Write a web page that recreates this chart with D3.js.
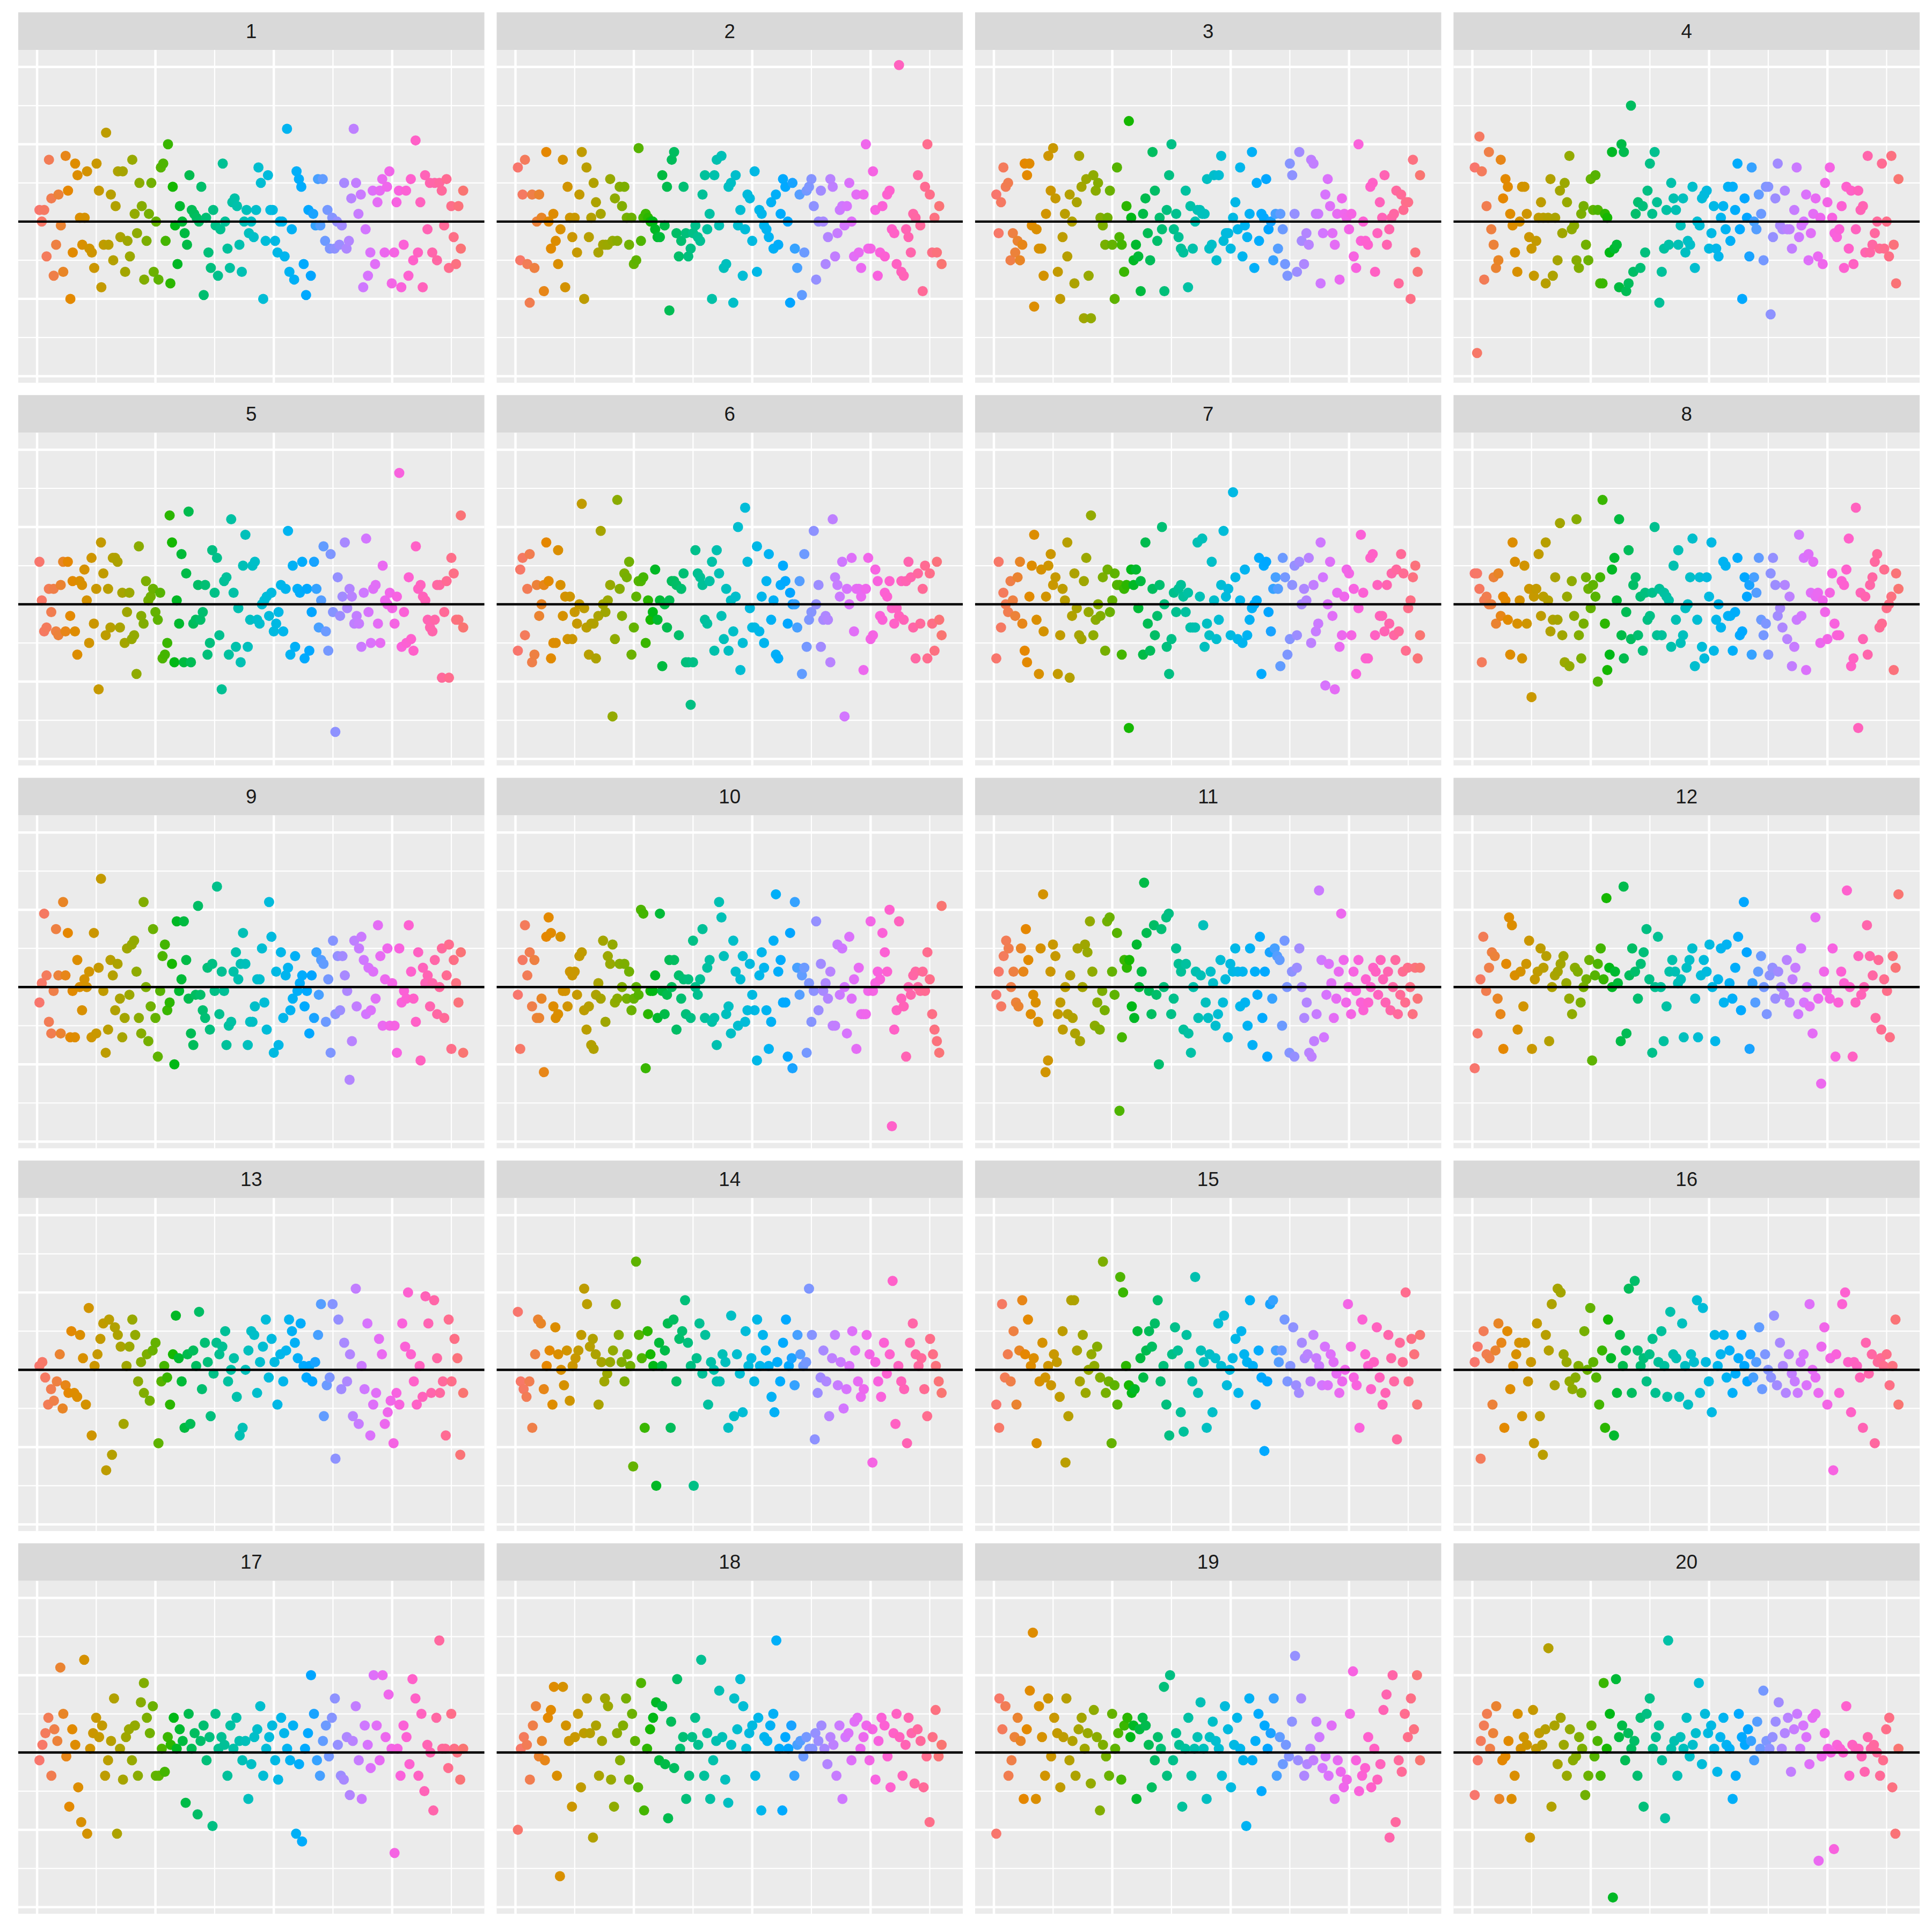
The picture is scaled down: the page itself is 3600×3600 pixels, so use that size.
<!DOCTYPE html>
<html><head><meta charset="utf-8">
<script src="https://cdn.jsdelivr.net/npm/d3@7"></script>
<style>html,body{margin:0;padding:0;background:#fff}svg{display:block}</style>
</head><body>
<script>
// ---- data: residual-like values per panel, ordered by observation index (1..180)
const panelLabels = ["1","2","3","4","5","6","7","8","9","10","11","12","13","14","15","16","17","18","19","20"];
const nObs = 180;
const xMajor = [0,50,100,150], xMinor = [25,75,125,175];
const yMajor = [-4,-2,0,2,4], yMinor = [-3,-1,1,3];
const yLimits = [-3.78, 4.05];

const p01 = [0.3,0.0,0.3,-0.9,1.6,0.6,-1.4,-0.6,0.7,-0.1,-1.3,1.7,0.8,-2.0,-0.8,1.5,1.2,0.1,-0.6,0.1,1.3,-0.7,-0.8,-1.2,1.5,0.8,-1.7,-0.6,2.3,-0.6,0.7,-1.0,0.4,1.3,-0.4,1.3,-1.3,-0.5,-0.9,1.6,0.2,-0.3,1.0,0.4,-1.5,-0.5,0.2,1.0,-1.3,0.0,-1.5,1.4,1.5,-0.5,2.0,-1.6,0.9,-0.1,-1.1,0.4,0.0,-0.3,-0.6,1.2,0.3,0.2,0.1,0.0,0.9,-1.9,0.1,-0.8,-1.2,0.3,-0.1,-1.4,-0.2,1.5,0.0,-0.7,-1.2,0.5,0.6,0.4,-0.6,-1.3,0.0,0.3,-0.3,0.0,-0.4,0.3,1.4,1.0,-2.0,-0.5,1.2,0.3,0.3,-0.5,-0.8,0.0,0.0,-0.9,2.4,-1.3,-0.2,-1.5,1.3,1.1,0.9,-1.1,-1.9,0.3,-1.4,0.2,-0.1,1.1,-0.1,1.1,-0.5,0.3,-0.7,0.1,-0.7,0.0,-0.6,-0.1,1.0,-0.7,-0.5,0.6,2.4,1.0,0.2,0.7,-1.7,-0.2,-1.4,-0.8,0.8,-1.1,0.5,0.8,1.1,-0.8,0.9,1.3,-1.6,-0.8,0.5,0.8,-1.7,-0.6,0.8,-1.4,1.1,-1.0,2.1,-0.8,0.5,-1.7,1.2,-0.2,1.0,-0.8,1.0,-1.0,1.0,0.8,-0.1,1.1,-1.2,0.4,-0.4,-1.1,0.4,-0.7,0.8];
const p02 = [1.4,-1.0,0.7,1.6,-1.1,-2.1,0.7,-1.2,0.0,0.7,0.1,-1.8,1.8,0.0,-0.7,0.2,-0.5,-1.1,-0.2,1.6,-1.7,0.9,0.1,-0.4,0.1,-0.8,0.7,1.8,-2.0,1.4,-0.4,0.1,1.0,0.5,-0.8,0.2,-0.6,-0.6,-0.6,1.1,-0.5,0.6,-0.5,0.9,0.4,0.9,0.1,-0.6,0.1,-1.1,-1.0,1.9,-0.5,0.1,0.2,0.1,0.0,0.0,-0.2,-0.4,-0.4,1.2,-0.1,0.9,-2.3,1.6,1.8,-0.3,-0.9,-0.5,0.9,-0.3,-0.9,-0.7,-0.3,-0.1,-0.4,-0.5,0.7,1.2,-0.2,0.2,-2.0,1.2,1.6,-0.1,1.7,-1.2,-1.1,0.9,1.0,-2.1,1.2,-0.1,0.3,-1.4,-0.2,0.7,0.6,-0.5,1.3,-1.3,0.3,0.2,-0.1,-0.2,-0.4,0.5,-0.7,0.7,-0.6,0.2,1.1,0.9,0.0,-2.1,1.0,-0.7,-1.2,0.7,-1.9,-0.8,0.8,0.9,1.1,0.4,-1.5,0.0,0.8,0.0,-1.1,-0.4,1.1,0.9,-0.9,-0.3,0.3,0.4,-0.1,0.4,1.0,0.0,-0.9,0.7,-0.8,-1.2,0.7,2.0,-0.7,-0.7,1.3,0.3,-1.4,-0.8,0.4,-0.9,0.7,0.8,-0.2,-0.3,-1.1,4.05,-1.3,-1.4,-0.2,-0.4,-0.8,0.2,0.1,1.2,-0.1,-1.8,0.9,2.0,0.7,-0.8,0.1,-0.8,0.4,-1.1];
const p03 = [0.7,-0.3,0.5,1.4,0.9,1.0,-1.0,-0.3,-0.8,-0.5,-1.0,-0.6,1.5,1.2,1.5,-0.1,-2.2,-0.2,-0.7,-0.7,-1.4,0.2,1.7,0.8,1.9,0.6,-1.3,-2.0,-0.4,0.2,-0.9,0.7,0.0,-1.6,0.5,1.7,0.9,-2.5,1.1,-1.4,-2.5,1.2,0.8,1.0,0.1,-0.1,-0.6,0.1,0.8,-0.6,-2.0,1.4,-0.4,-0.6,-1.3,0.4,2.6,0.1,-1.0,-0.6,-0.9,-1.8,0.2,0.6,-0.3,-1.0,1.8,0.8,-0.5,0.1,-0.2,-1.8,0.3,1.2,2.0,-0.2,0.2,-0.4,-0.7,-0.8,0.8,-1.7,0.4,-0.7,0.0,0.3,0.3,0.2,0.2,1.1,-0.7,-0.6,1.2,-1.0,1.2,1.7,-0.5,-0.3,-0.3,-0.7,0.1,0.5,-0.2,1.4,-0.9,-0.1,-0.4,0.2,1.8,-1.2,1.0,-0.5,0.2,0.1,1.1,-0.2,0.0,-1.0,0.2,-0.7,0.2,-0.2,-1.1,-1.4,1.5,1.2,0.2,-1.3,1.8,-0.5,-1.1,-0.3,-0.6,1.6,1.5,0.2,0.2,-1.6,-0.3,0.7,1.1,0.4,-0.3,-0.6,0.2,-1.5,0.6,0.2,0.1,-0.2,0.2,-0.9,-1.2,2.0,-0.5,0.0,-0.5,-0.6,0.9,1.0,-1.3,-0.3,0.5,0.1,1.2,-0.6,-0.2,0.1,0.2,0.8,-1.6,0.7,0.3,0.5,0.5,-2.0,1.6,-0.8,-1.3,1.2];
const p04 = [1.4,-3.4,2.2,1.3,-1.5,0.4,1.8,-0.2,-0.6,-1.2,-1.0,1.6,0.6,1.1,0.9,0.2,-0.1,-0.8,-1.3,0.0,0.9,0.9,0.2,-0.4,-0.7,-1.4,-0.5,0.1,0.5,0.1,-1.6,0.1,1.1,-1.4,0.1,-1.0,0.8,-0.3,1.0,0.5,1.7,-0.2,-0.1,-1.0,-1.2,0.2,0.4,-0.6,-1.0,1.1,0.3,1.2,0.3,-1.6,-1.6,0.2,0.1,-0.8,1.8,-0.7,-0.6,-1.7,2.0,1.8,-1.8,-1.6,3.0,-1.3,0.2,0.5,-1.2,0.4,-0.8,0.8,1.5,0.2,1.8,0.5,-2.1,-1.3,-0.7,0.3,-0.6,1.0,0.6,0.3,-0.6,-0.1,0.6,-0.8,-0.5,-0.6,0.9,-1.2,0.0,-0.1,0.6,0.7,0.8,-0.7,-0.3,0.4,-0.7,-0.9,0.1,0.4,-0.2,0.9,-0.5,0.9,0.3,1.5,-0.2,-2.0,0.6,0.1,-0.9,1.4,0.0,-0.2,0.7,0.2,-1.0,0.9,0.9,-2.4,-0.4,0.6,1.5,-0.1,-0.2,0.8,-0.2,-0.2,-0.7,0.3,1.4,-0.4,-0.1,0.0,0.7,-1.0,-0.3,0.2,0.6,-0.9,0.1,-1.1,1.0,0.5,1.4,0.1,-0.3,-0.4,-0.2,0.4,-1.2,0.9,-0.7,0.8,-1.1,-0.2,0.8,0.3,0.4,-0.8,1.7,-0.8,-0.6,-0.3,0.0,-0.7,1.5,-0.7,0.0,-0.9,1.7,-0.6,-1.6,1.1];
const p05 = [1.1,0.1,-0.7,-0.6,0.4,-0.2,0.4,-0.7,-0.8,0.5,1.1,-0.7,1.1,-0.3,0.6,-0.7,-1.3,0.6,0.5,0.9,0.1,-1.0,1.2,-0.5,0.4,-2.2,1.6,0.8,-0.8,0.4,-0.6,1.2,1.2,1.1,-0.6,0.3,-1.0,-0.2,0.3,-0.9,-0.8,-1.8,1.5,-0.3,-0.5,0.6,0.1,0.2,0.4,-0.2,-0.4,0.3,-1.4,-1.3,-1.0,2.3,1.6,-1.5,0.1,-0.5,1.3,-1.5,0.8,2.4,-1.5,-0.5,-0.4,0.5,-0.4,-0.2,0.5,-1.3,-1.0,1.4,0.3,1.2,-0.8,-2.2,0.6,0.7,-1.3,2.2,0.3,-1.1,-0.1,-1.5,1.0,1.8,-1.1,-0.4,1.0,1.1,-0.4,-0.5,0.0,0.1,0.2,-0.3,0.3,-0.7,-0.5,-0.2,0.5,-0.7,0.4,1.9,-1.3,1.0,-1.1,0.4,0.3,1.1,-1.4,0.4,-1.2,-0.2,1.1,0.4,-0.6,0.1,1.5,-0.7,-1.2,1.3,-0.2,-3.3,0.7,-0.3,0.2,1.6,-0.1,0.4,0.2,-0.5,-0.3,-0.5,-1.1,0.3,1.7,-0.2,-1.0,0.4,0.5,-0.5,-1.0,1.0,0.1,0.0,0.3,-0.1,-0.5,0.2,3.4,-1.1,-0.2,-1.0,0.7,-0.9,-1.2,1.5,0.4,0.5,0.2,0.1,-0.4,-0.6,-0.7,-0.4,0.5,0.5,-1.9,-0.2,0.6,-1.9,1.2,0.8,-0.4,-0.4,2.3,-0.6];
const p06 = [-1.2,0.9,1.2,-0.8,0.4,1.3,-1.5,-1.3,0.5,-0.3,0.0,0.5,1.6,0.6,-1.4,-1.0,-1.0,1.4,0.5,-0.3,0.2,-0.9,0.2,-0.9,-0.2,-0.5,0.0,2.6,-0.1,-0.6,-1.3,-0.5,-0.5,-1.4,-0.3,1.9,0.0,-0.2,0.1,0.5,-2.9,-0.9,2.7,0.4,-0.3,0.8,0.7,1.1,-1.3,-0.6,0.2,0.6,0.6,0.7,-1.0,0.1,-0.4,-0.2,0.9,-0.4,0.1,-1.6,0.0,-0.6,0.1,0.6,0.6,0.5,-0.8,0.4,0.8,-1.5,-1.5,-2.6,-1.5,1.4,0.8,0.7,0.5,-0.4,-0.5,0.6,1.1,-1.2,1.4,0.8,-0.3,-0.9,0.4,-1.2,0.1,-0.7,0.2,2.0,-1.7,-1.0,2.5,1.1,-0.1,-0.6,-0.6,1.5,-0.7,0.2,-1.0,0.6,1.3,-0.4,0.1,-1.3,-1.4,0.5,1.0,0.6,-0.5,0.3,0.0,0.0,-0.6,0.6,-1.8,1.3,-1.1,-0.4,-0.2,1.9,0.0,0.5,-1.1,-0.4,-0.3,-0.4,-1.5,2.2,0.7,0.5,0.2,1.1,-2.9,0.4,0.0,1.2,-0.7,0.4,0.4,0.2,-1.7,0.4,1.2,-0.9,-0.8,0.9,0.6,-0.3,-0.4,0.3,0.2,0.6,-0.1,-0.5,-0.1,-0.3,0.6,-0.4,0.6,1.1,0.7,-0.6,-1.4,0.8,-0.5,0.4,1.0,-1.4,0.8,-0.5,-1.2,1.1,-0.4,-0.8];
const p07 = [-1.4,1.1,-0.6,0.3,0.0,-0.2,0.6,0.1,-0.3,0.7,1.1,-0.5,-1.2,-1.5,0.2,1.0,1.8,-0.4,-1.8,0.9,-0.7,0.2,1.0,1.3,0.5,0.7,-1.8,-0.8,0.4,0.1,1.6,-1.9,-0.3,0.8,-0.1,-0.8,-0.9,0.6,1.2,-0.2,2.3,-0.8,-0.4,0.0,-0.3,0.7,-1.2,0.9,-0.2,0.1,0.8,0.5,0.5,-1.3,0.4,0.5,-3.2,0.9,0.5,0.9,-0.1,0.6,-1.3,1.6,-0.5,-1.2,0.4,-0.8,-0.3,0.5,2.0,0.0,-1.1,-1.8,-0.9,0.3,-0.2,0.4,0.5,0.2,-0.2,0.3,-0.6,-0.6,-0.6,1.6,0.2,1.7,-1.1,-0.5,-0.8,1.1,0.1,-0.9,-0.4,0.5,1.9,0.2,0.4,-0.8,2.9,0.7,-0.9,0.1,-1.0,0.9,-0.8,-0.4,-0.1,0.0,0.1,1.2,-1.8,1.0,1.1,-0.2,-0.7,0.4,0.7,0.4,-1.6,1.2,0.7,-1.3,-0.9,0.5,1.0,-0.8,1.1,0.0,0.4,0.1,1.2,-1.0,0.5,-0.7,-0.5,1.6,0.7,-2.1,0.0,1.1,-0.3,-2.2,0.3,-1.1,-0.8,0.2,0.9,0.8,-0.8,0.4,-1.8,-0.1,1.8,0.3,-1.4,-1.4,1.2,1.3,-0.8,0.5,-0.3,-0.3,-0.7,0.5,-0.5,0.8,-0.8,0.9,-0.7,1.3,0.8,-1.2,-0.1,0.1,0.7,1.0,-1.4,-0.8];
const p08 = [0.8,0.8,0.4,-1.5,0.1,0.2,0.0,0.0,0.7,-0.5,0.8,-0.3,0.2,0.1,-0.4,-1.3,1.6,1.1,-0.5,0.1,-1.4,1.0,-0.5,0.4,-2.4,0.2,0.4,1.3,-0.3,0.2,1.6,0.1,-0.7,-0.4,0.7,-0.4,2.1,-0.8,-1.5,0.2,-1.6,0.6,-0.3,2.2,-0.8,-1.4,-0.5,0.7,0.4,-0.1,0.5,0.2,-2.0,0.7,2.7,-0.5,-1.7,-1.3,0.9,1.2,0.1,2.2,-0.8,-1.4,-0.2,1.4,-0.9,0.5,0.7,-0.8,0.2,-1.2,0.3,-0.4,-0.3,0.3,2.0,-0.8,0.4,-0.8,0.3,0.2,0.1,-1.1,1.0,-0.4,1.4,-1.0,-0.8,-0.1,0.0,0.7,1.7,-1.6,-0.4,0.7,-1.1,-1.4,0.7,0.2,1.6,-1.2,-0.4,0.0,-0.6,1.1,1.0,-0.3,-0.3,-1.2,-0.2,1.2,-0.8,-0.7,0.7,0.2,0.5,-1.3,0.7,0.3,1.2,-0.4,-0.8,-0.5,-1.3,0.8,1.2,0.5,-0.3,-0.1,-0.6,0.5,-0.9,0.2,-1.6,-1.1,-0.4,1.8,-0.3,1.2,-1.7,1.3,0.3,1.1,0.2,0.3,-1.0,0.1,-0.2,-0.9,0.3,0.8,-0.5,-0.8,-0.8,0.6,0.5,0.9,1.7,-1.6,-1.4,2.5,-3.2,0.3,-0.9,0.2,-1.3,0.5,0.7,1.1,1.3,-0.6,-0.5,0.9,-0.1,0.0,0.2,-1.7,0.8,0.4];
const p09 = [-0.4,0.1,1.9,0.3,-0.9,-1.2,-0.1,1.5,0.3,-1.2,2.2,0.3,1.4,-1.3,-0.1,-1.3,0.7,0.0,-0.6,0.2,0.0,0.4,-1.3,1.4,-1.2,0.5,2.8,-0.1,-1.7,-1.1,0.7,0.3,-0.6,0.6,-0.3,-1.3,-0.8,1.0,-0.2,1.1,1.2,0.4,-0.8,-1.2,2.2,0.0,-1.4,-0.5,1.5,-0.8,-1.8,-0.1,0.8,1.1,-0.6,-0.4,0.6,-2.0,1.7,-0.1,0.2,1.7,0.7,-0.3,-1.2,-1.5,-0.2,2.1,-0.2,-0.6,-0.8,0.5,-1.1,0.6,-0.1,2.6,-0.7,0.4,-0.1,-1.5,-1.0,-0.9,0.4,0.9,0.2,0.6,1.4,0.6,-1.5,-0.9,-0.9,-0.5,0.2,0.2,1.0,-0.4,-1.1,2.2,1.3,-1.7,0.4,-1.5,0.9,-0.8,0.3,0.5,-0.6,-0.3,0.8,-0.1,0.1,0.3,-0.5,-0.1,-1.2,0.3,-0.8,0.9,-0.2,0.7,0.6,-0.9,0.2,-1.7,1.2,-0.7,0.8,-0.6,0.8,0.3,-0.1,-2.4,-1.4,1.2,-0.5,1.0,1.3,0.7,-0.7,0.5,-0.6,0.4,-0.3,1.6,0.8,-1.0,0.2,1.0,-1.0,0.1,-1.0,-1.7,1.0,-0.4,-0.1,-0.3,1.6,0.4,-0.3,-0.9,0.9,-1.9,0.5,0.1,0.3,-0.5,0.1,0.7,-0.7,0.0,1.0,-0.8,0.3,1.1,-1.6,0.7,0.1,-0.4,0.9,-1.7];
const p10 = [-0.2,-1.6,0.7,1.6,0.3,0.9,-0.5,0.7,-0.8,-0.8,-0.3,-2.2,1.3,1.8,1.4,-0.5,-0.8,-0.7,1.3,-0.1,-0.1,-0.5,0.4,0.3,0.4,-0.2,0.8,0.9,-0.6,-1.1,-0.5,-1.5,-1.6,-0.2,0.1,-0.3,1.2,-0.9,0.8,0.6,1.1,-0.4,-0.3,0.6,0.0,0.6,-0.3,0.4,-0.6,-0.3,0.0,-0.2,2.0,1.9,-2.1,-0.7,-0.1,-0.1,0.3,-0.8,1.9,-0.1,-0.7,-0.2,0.7,0.0,0.7,-1.1,0.3,-0.3,0.2,-0.7,0.2,-0.8,1.2,0.0,-0.2,0.2,1.5,-0.8,0.5,0.7,-0.9,-0.8,-1.5,2.2,1.8,0.8,-0.7,-0.5,-1.2,1.2,0.4,-1.0,0.2,0.8,-0.9,-0.6,0.6,-0.2,-0.6,-1.9,0.3,0.9,0.5,-0.6,-1.6,-0.9,1.2,2.4,0.4,0.7,-0.4,-0.4,-1.8,1.4,-2.1,2.2,0.5,-0.2,0.3,0.5,-1.7,0.1,-0.9,-0.1,1.7,-0.6,0.6,-0.1,0.1,-0.3,0.4,-1.0,-1.0,1.1,-0.2,1.0,0.0,-1.2,1.3,-0.3,0.2,-1.6,0.5,-0.7,-0.7,-0.7,-0.1,1.7,-0.1,0.1,0.4,0.2,1.4,0.9,0.4,2.0,-3.6,-1.1,-0.6,1.7,-0.3,-0.5,-1.8,0.0,-0.2,0.3,0.4,0.0,-0.1,0.4,-0.1,0.9,0.2,-0.7,-1.1,-1.4,-1.7,2.1];
const p11 = [-0.2,0.4,-0.5,0.8,1.2,1.0,0.0,0.4,-0.4,-0.5,1.0,0.4,1.5,0.7,-0.7,-0.2,-0.4,-0.9,1.0,2.4,-2.2,-1.9,0.4,1.1,0.8,-0.7,-0.4,-1.1,0.0,-0.7,0.3,-0.8,-1.2,1.0,-1.4,0.0,1.1,0.9,1.7,0.4,-1.0,-0.4,-1.1,-0.1,-0.6,1.7,1.8,0.4,-0.2,1.4,-3.2,-1.3,0.7,0.5,0.7,-0.5,-0.8,1.1,0.0,0.4,2.7,1.4,-0.1,-0.7,1.6,-0.2,-2.0,1.5,0.0,1.8,1.9,-0.7,-0.3,1.0,0.6,0.4,-1.1,0.6,-1.2,-1.7,0.0,0.4,-0.8,0.3,1.6,-0.4,-0.8,0.4,0.1,-1.0,-0.7,0.7,-0.4,0.2,-1.3,0.6,0.4,1.0,0.4,-0.5,0.4,-0.4,-1.0,1.0,-1.5,0.4,-0.2,1.3,-0.8,0.4,-1.8,0.9,-0.3,1.0,0.8,0.7,-1.0,1.2,0.0,-1.7,0.4,-1.8,0.5,1.0,0.0,-0.8,-0.4,-1.7,-1.8,-1.4,-0.7,2.5,0.7,-1.3,-0.2,0.6,0.1,-0.8,-0.3,0.4,1.9,0.7,-0.4,0.0,-0.7,0.4,-0.1,0.7,-0.4,-0.6,0.2,-0.4,0.0,0.5,0.4,-0.2,0.7,0.2,-0.4,0.4,-0.6,0.0,0.7,-0.7,-0.2,0.4,-0.4,0.5,0.0,-0.7,0.5,-0.3,0.5];
const p12 = [-2.1,-1.2,0.2,1.3,-0.1,0.5,0.9,0.8,-0.3,-0.7,-1.6,0.6,1.8,1.6,0.3,-1.1,0.4,-0.5,0.6,1.2,-1.6,0.2,0.4,1.0,0.5,0.8,-1.4,0.0,0.3,0.4,0.6,0.8,0.1,-0.3,-0.7,0.5,0.4,-0.4,0.0,0.2,0.7,-1.9,0.3,0.6,1.0,0.2,2.3,0.5,0.0,0.4,0.1,-1.4,2.6,-1.2,0.3,1.0,0.4,-0.3,0.6,0.9,1.5,0.2,-1.7,0.0,1.3,0.0,-1.4,-0.5,0.4,0.7,0.4,0.1,0.2,-1.3,0.5,0.7,1.0,-0.3,-1.3,0.3,0.7,0.4,1.1,0.0,-1.4,0.2,1.0,-0.4,1.1,0.1,-0.3,0.5,1.3,-0.6,2.2,0.9,-1.6,0.1,-0.4,0.4,0.8,0.0,-0.7,0.3,0.5,-0.3,0.4,0.0,-0.2,0.7,-0.4,0.2,0.5,-0.7,1.0,-0.4,0.0,-0.5,-1.2,1.8,-0.3,-2.5,0.4,-0.1,-0.3,1.0,-1.8,-0.4,0.4,0.1,2.5,0.0,-1.8,-0.4,0.8,-0.2,0.0,1.6,0.8,0.3,-0.8,0.7,-1.1,0.2,-0.1,-1.3,0.8,0.5,2.4];
const p13 = [0.1,0.2,-0.2,-0.9,-0.5,-0.8,-0.3,0.4,-1.0,-0.4,-0.6,1.0,-0.6,-0.7,0.9,0.3,-0.9,1.6,-1.7,0.1,0.4,0.8,1.2,-2.6,1.3,-2.2,1.1,0.9,0.6,-1.4,0.1,0.6,1.3,0.9,-0.3,0.2,-0.6,0.4,-0.8,0.5,0.7,-1.9,-0.3,0.1,-0.2,-0.9,0.4,1.4,0.3,-0.3,-1.5,0.4,-1.4,0.5,0.1,1.5,-0.5,0.7,0.2,-1.2,-0.1,0.7,0.4,0.6,1.0,-0.3,0.0,0.3,-0.7,-1.7,-1.5,0.0,0.5,1.0,0.9,-0.6,0.2,0.6,1.3,-0.2,0.8,0.2,-0.9,0.4,-0.3,0.5,1.3,1.0,0.7,0.3,1.2,0.1,-0.2,0.1,-0.3,0.2,0.9,1.7,-1.2,-0.4,-0.2,1.7,-2.3,1.3,-0.5,0.7,-0.3,0.4,-1.2,2.1,-1.4,0.1,-0.5,1.2,-1.7,-0.9,-0.6,0.8,0.4,-1.4,-1.1,-0.8,-1.9,-0.6,-0.9,1.2,0.6,2.0,0.4,-0.3,-0.9,0.1,-0.7,1.9,1.2,-0.6,1.8,0.3,-0.6,-0.3,-1.7,1.3,-0.3,0.8,0.3,-2.2,-0.6];
const p14 = [1.5,-0.3,-0.5,-0.7,-0.3,-1.5,0.4,1.3,1.2,-0.5,0.1,0.5,-0.9,1.1,0.4,0.0,-0.4,0.5,-0.8,0.1,0.3,0.5,0.9,2.1,1.7,0.6,0.8,0.4,-0.9,0.2,-0.3,-0.1,0.2,0.5,1.7,0.9,0.2,-0.3,0.4,0.1,-2.5,2.8,0.9,0.3,-1.5,1.0,0.4,0.1,-3.0,0.7,0.1,0.5,1.2,-1.5,1.3,-0.3,0.8,1.0,1.8,0.7,0.1,-3.0,0.3,1.2,-0.1,0.9,-0.9,0.2,0.0,-0.3,-0.3,0.4,0.2,-1.5,1.4,-1.2,0.4,-0.1,-1.1,1.0,0.1,0.3,-0.3,1.3,0.1,0.9,0.5,0.1,-0.7,-1.1,0.2,-0.3,0.7,1.3,0.1,0.3,-0.4,0.9,0.4,0.1,0.2,2.1,0.9,-1.8,-0.6,-0.2,0.5,-0.3,-1.2,0.3,0.9,-0.4,0.2,-1.0,-0.5,0.1,1.0,0.5,-0.3,-0.7,-0.5,0.9,0.4,-2.4,0.2,-0.3,-0.7,0.7,-0.1,0.4,2.3,-1.4,0.1,-0.3,-0.5,-1.9,0.7,1.2,0.4,0.1,0.3,-0.5,-1.2,0.8,0.4,0.1,-0.3,-0.6];
const p15 = [-0.9,-1.5,1.7,-0.2,0.4,-0.3,1.0,-0.9,0.5,1.8,0.4,1.3,0.1,0.3,-1.9,-0.3,0.7,-0.2,0.1,-0.4,0.4,0.2,-0.7,1.0,-2.4,-1.2,1.8,1.8,0.5,-0.3,0.9,-0.6,0.0,0.4,0.1,0.6,-0.2,2.8,-0.6,-0.3,-1.9,-0.4,-0.9,2.4,2.0,0.1,-0.4,-0.6,-0.5,1.0,0.3,-0.2,0.5,1.0,0.6,1.2,1.8,-0.3,0.1,-0.9,-1.7,0.4,1.1,0.5,-1.1,-1.6,0.9,0.1,-0.3,2.4,-0.6,0.5,0.2,-1.5,0.4,-1.1,0.3,1.2,0.1,1.4,-0.4,0.0,0.3,0.8,-0.6,1.0,0.4,0.2,1.8,0.1,-0.9,0.5,-0.2,-2.1,-0.3,1.7,1.8,0.5,0.2,0.5,1.3,-0.3,0.1,1.1,-0.4,-0.6,0.7,0.3,0.4,-0.3,0.9,0.3,0.1,-0.4,0.6,-0.4,0.4,0.2,-0.1,-0.6,-0.3,0.0,1.7,0.6,-0.2,-0.4,-1.5,1.3,0.4,0.1,-0.5,0.2,1.1,-0.2,-0.9,-0.6,0.9,0.3,-0.3,-1.8,0.7,0.2,2.0,-0.3,0.8,0.4,-0.9,0.9];
const p16 = [0.2,0.6,-2.3,1.0,0.4,0.3,-0.9,0.5,1.2,0.7,-1.5,1.0,-0.5,0.1,0.4,0.7,-1.2,0.7,-0.3,0.2,-1.9,1.2,-1.2,-2.2,0.9,0.5,1.7,-0.4,2.1,2.0,0.4,0.2,-0.3,-0.5,-0.2,0.1,-0.6,1.0,0.0,1.6,0.2,-0.2,-0.9,0.5,-1.5,1.3,0.3,-1.7,-0.6,0.9,0.1,0.5,2.1,-0.6,2.3,0.5,0.1,0.3,-0.3,0.4,0.8,-0.6,0.2,1.0,0.1,-0.7,1.5,0.4,0.3,-0.7,1.2,0.1,-0.9,0.4,0.2,1.8,-0.6,1.6,0.2,-0.3,-1.1,0.9,0.1,0.4,0.9,-0.2,0.5,-0.6,-0.1,0.3,0.9,0.1,-0.3,0.4,-0.2,0.2,1.1,-0.5,0.4,0.0,-0.2,1.4,-0.4,0.7,0.1,-0.6,0.4,-0.1,-0.3,-0.6,0.2,0.4,-0.4,1.7,0.0,-0.2,-0.6,0.6,1.1,-0.9,0.3,-2.6,0.4,-0.6,1.7,2.0,0.2,-1.1,0.2,0.1,-0.2,-1.5,0.7,-0.1,0.4,-1.9,0.2,0.3,0.1,0.4,-0.4,0.1,1.3,-0.9];
const p17 = [-0.2,0.2,0.5,0.9,-0.6,0.6,0.3,2.2,1.0,-0.1,-1.4,0.6,0.2,-0.9,-1.8,2.4,-2.1,0.1,0.5,0.9,0.4,0.7,-0.6,-0.2,0.3,1.4,-2.1,0.1,-0.7,0.4,0.6,-0.2,0.7,-0.6,1.3,1.8,0.9,0.5,1.2,-0.6,-0.6,0.1,-0.5,0.4,0.2,0.9,0.1,0.6,0.3,-1.3,1.0,0.1,0.5,-1.6,0.3,0.7,-0.2,0.4,-1.9,1.0,0.1,0.4,0.2,-0.6,0.7,0.1,0.9,0.3,-0.2,0.3,-1.2,-0.3,0.4,0.6,1.2,-0.6,0.1,0.4,0.7,-0.2,-0.7,0.9,0.5,0.1,-0.2,0.7,-2.1,-0.3,-2.3,0.1,0.5,2.0,1.0,-0.2,-0.6,0.3,0.7,-0.1,0.9,1.4,0.2,-0.6,-0.7,0.4,-1.1,0.3,1.2,-0.2,-1.2,0.7,0.2,-0.4,2.0,0.7,-0.2,2.0,0.4,1.5,0.1,-2.6,0.1,-0.6,0.7,0.4,-0.3,1.9,1.4,-0.6,1.0,-1.0,0.2,0.0,-1.5,0.9,2.9,0.1,0.1,-0.4,1.0,0.1,0.0,-0.7,0.1];
const p18 = [-2.0,0.1,0.4,0.2,-0.7,0.7,1.2,-0.1,0.3,-0.2,0.9,1.1,1.7,-0.6,-3.2,1.7,0.7,0.3,-1.4,0.4,1.0,-0.9,0.5,1.4,0.5,-2.2,0.7,-0.6,0.3,1.4,1.2,-0.7,-1.4,0.5,-0.2,0.7,1.4,-0.7,1.0,0.3,-0.9,1.8,-1.5,0.1,0.6,0.9,1.3,-0.2,1.2,-0.3,-1.7,0.8,-0.4,1.9,0.1,0.4,-1.2,-0.6,0.4,0.9,0.2,2.4,-0.6,0.5,-1.2,-0.2,0.3,1.6,0.4,-0.7,-1.3,0.2,1.4,0.6,1.9,1.2,0.1,0.5,0.7,-0.6,0.9,-1.5,0.4,0.3,0.7,1.0,2.9,0.1,-1.5,0.4,0.1,0.7,-0.6,0.2,0.3,-0.1,0.4,0.1,0.1,0.5,0.3,0.7,0.1,-0.3,0.4,0.2,-0.6,0.7,-1.2,0.4,0.5,-0.2,0.8,0.9,0.1,0.4,0.7,-0.2,0.6,-0.7,0.3,0.9,0.7,-0.1,-0.9,0.5,1.0,0.4,-0.6,0.2,0.9,0.5,-0.8,0.6,0.3,-0.9,-0.1,-1.8,0.4,1.1,-0.1,0.2];
const p19 = [-2.1,1.4,0.6,1.2,-0.6,-0.2,0.4,0.9,0.3,-1.2,0.6,1.6,3.1,-1.2,1.2,0.4,-0.6,1.4,-0.1,0.9,0.5,-0.9,0.4,1.4,-0.2,0.3,-0.6,0.6,0.9,0.1,0.5,-0.8,1.1,0.4,-1.5,0.2,-0.1,-0.6,1.0,0.1,0.5,-0.7,0.7,0.9,0.4,0.7,-1.2,0.6,0.9,0.7,0.2,-0.9,-0.2,0.4,0.1,1.7,-0.6,2.0,-0.2,0.5,0.2,-1.4,0.1,0.9,-0.6,0.1,0.4,1.3,0.1,-1.2,0.4,0.8,0.3,0.1,-0.6,1.2,0.6,-0.9,0.2,0.9,0.1,-0.2,-1.9,1.4,-0.2,0.3,1.0,-1.0,0.7,0.1,0.5,1.4,-0.6,0.4,-0.3,0.2,-0.1,0.8,2.5,-0.2,1.4,-0.6,-0.3,0.1,-0.2,0.8,0.4,-0.4,-0.1,-0.6,0.7,-1.2,-0.2,-0.5,-0.9,-0.7,1.0,2.1,-0.2,-1.0,-0.6,-0.4,0.4,-0.9,0.1,-0.7,-0.3,1.1,1.5,-2.2,2.0,-1.8,-0.2,-0.5,1.0,0.4,1.4,0.6,2.0,-0.2];
const p20 = [-1.1,-0.2,0.3,0.7,1.0,0.1,0.5,1.2,-1.2,-0.2,-0.1,0.3,-1.2,-0.6,1.0,0.1,0.4,0.2,-2.2,1.1,0.1,0.5,0.2,0.6,2.7,-1.4,0.7,-0.3,0.9,0.2,-0.6,0.6,-0.2,-0.1,0.4,0.1,-1.1,-0.6,0.7,-0.1,0.3,-0.6,1.8,0.1,1.0,-3.75,1.9,0.4,0.7,-0.2,0.5,0.1,0.3,-0.6,0.9,-1.4,1.0,1.4,0.1,0.4,0.7,-0.2,-1.7,2.9,0.1,0.3,-0.6,0.4,0.1,0.9,-0.1,0.2,0.5,1.8,-0.3,1.0,0.5,0.7,0.1,-0.5,0.4,0.9,0.2,0.1,-1.2,-0.6,1.0,0.4,0.2,0.6,0.3,-0.2,0.8,0.1,1.6,0.3,0.1,0.4,0.8,1.3,0.1,0.5,0.9,-0.5,0.6,1.0,0.1,0.7,0.4,-0.3,0.9,1.0,-2.8,-0.1,0.5,0.1,0.0,-2.5,0.2,0.1,0.0,1.2,-0.6,0.2,0.1,0.1,-0.1,-0.5,0.4,0.1,0.2,0.0,-0.6,-0.2,0.6,0.9,-0.9,-2.1,0.1];
const panelValues = [p01,p02,p03,p04,p05,p06,p07,p08,p09,p10,p11,p12,p13,p14,p15,p16,p17,p18,p19,p20];

// ---- ggplot-like hue palette (polar LUV, c=100, l=65)
function hclLuv(h, c, l) {
  const hr = h * Math.PI / 180, U = c * Math.cos(hr), V = c * Math.sin(hr);
  const Xn = 95.047, Yn = 100, Zn = 108.883;
  const den = Xn + 15 * Yn + 3 * Zn, un = 4 * Xn / den, vn = 9 * Yn / den;
  const Y = l > 8 ? Yn * Math.pow((l + 16) / 116, 3) : Yn * l / 903.3;
  const u = U / (13 * l) + un, v = V / (13 * l) + vn;
  const X = 9 * Y * u / (4 * v), Z = Y * (12 - 3 * u - 20 * v) / (4 * v);
  const x = X / 100, y = Y / 100, z = Z / 100;
  const lin = [3.240479 * x - 1.537150 * y - 0.498535 * z,
              -0.969256 * x + 1.875992 * y + 0.041556 * z,
               0.055648 * x - 0.204043 * y + 1.057311 * z];
  const g = lin.map(t => { t = t <= 0.0031308 ? 12.92 * t : 1.055 * Math.pow(t, 1 / 2.4) - 0.055; return Math.round(255 * Math.max(0, Math.min(1, t))); });
  return d3.rgb(g[0], g[1], g[2]).formatHex();
}
const hueColors = d3.range(nObs).map(i => hclLuv(15 + 360 * i / nObs, 100, 65));

// ---- layout
const W = 3600, H = 3600;
const mL = 34, mT = 23, mR = 23, mB = 34, gap = 22.9, stripH = 70, ncol = 4, nrow = 5;
const pw = (W - mL - mR - gap * (ncol - 1)) / ncol;
const rowH = (H - mT - mB - gap * (nrow - 1)) / nrow;
const ph = rowH - stripH;

const xSpan = nObs - 1;
const x = d3.scaleLinear().domain([1 - 0.05 * xSpan, nObs + 0.05 * xSpan]).range([0, pw]);
const ySpan = yLimits[1] - yLimits[0];
const y = d3.scaleLinear().domain([yLimits[0] - 0.05 * ySpan, yLimits[1] + 0.05 * ySpan]).range([ph, 0]);

const svg = d3.select("body").append("svg").attr("width", W).attr("height", H)
  .style("font-family", "'Liberation Sans', Arial, Helvetica, sans-serif");
svg.append("rect").attr("width", W).attr("height", H).attr("fill", "#ffffff");

panelValues.forEach((vals, k) => {
  const col = k % ncol, row = Math.floor(k / ncol);
  const px = mL + col * (pw + gap), sy = mT + row * (rowH + gap), py = sy + stripH;
  const g = svg.append("g");
  g.append("rect").attr("x", px).attr("y", sy).attr("width", pw).attr("height", stripH).attr("fill", "#D9D9D9");
  g.append("text").attr("x", px + pw / 2).attr("y", sy + stripH / 2).attr("text-anchor", "middle")
    .attr("dominant-baseline", "central").attr("font-size", 36.7).attr("fill", "#1A1A1A").text(panelLabels[k]);
  const p = g.append("g").attr("transform", `translate(${px},${py})`);
  p.append("rect").attr("width", pw).attr("height", ph).attr("fill", "#EBEBEB");
  p.selectAll(".yminor").data(yMinor).join("line").attr("x1", 0).attr("x2", pw)
    .attr("y1", d => y(d)).attr("y2", d => y(d)).attr("stroke", "#fff").attr("stroke-width", 2.2);
  p.selectAll(".xminor").data(xMinor).join("line").attr("y1", 0).attr("y2", ph)
    .attr("x1", d => x(d)).attr("x2", d => x(d)).attr("stroke", "#fff").attr("stroke-width", 2.2);
  p.selectAll(".ymajor").data(yMajor).join("line").attr("x1", 0).attr("x2", pw)
    .attr("y1", d => y(d)).attr("y2", d => y(d)).attr("stroke", "#fff").attr("stroke-width", 4.45);
  p.selectAll(".xmajor").data(xMajor).join("line").attr("y1", 0).attr("y2", ph)
    .attr("x1", d => x(d)).attr("x2", d => x(d)).attr("stroke", "#fff").attr("stroke-width", 4.45);
  const n = vals.length;
  const pts = vals.map((v, j) => ({ xi: n > 1 ? 1 + j * xSpan / (n - 1) : 1, v }));
  p.selectAll("circle").data(pts).join("circle")
    .attr("cx", d => x(d.xi)).attr("cy", d => y(d.v)).attr("r", 9.5)
    .attr("fill", d => hueColors[Math.min(nObs - 1, Math.max(0, Math.round(d.xi) - 1))]);
  p.append("line").attr("x1", 0).attr("x2", pw).attr("y1", y(0)).attr("y2", y(0))
    .attr("stroke", "#000").attr("stroke-width", 4.45);
});
</script>
</body></html>
